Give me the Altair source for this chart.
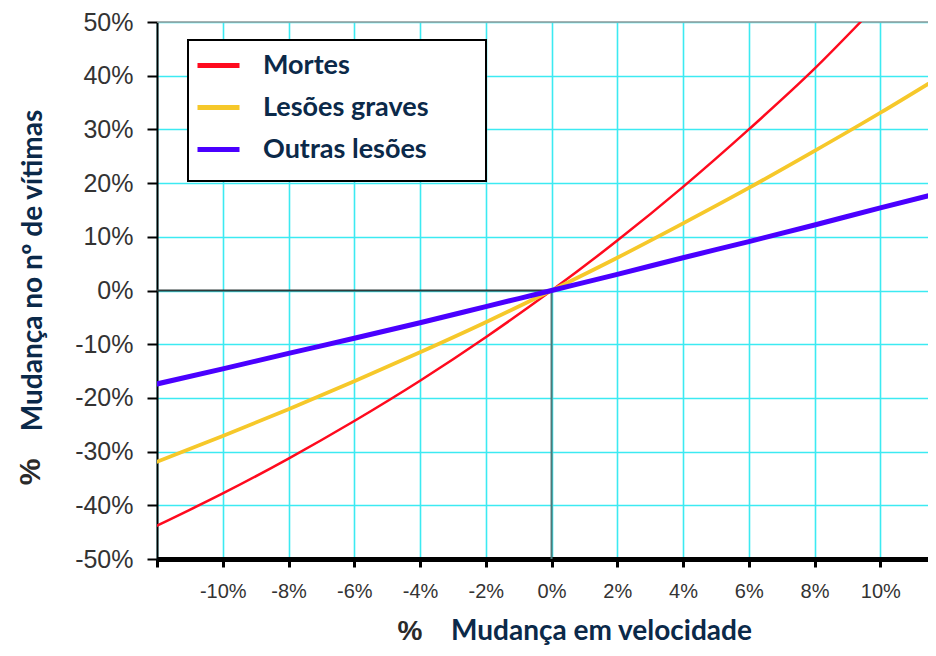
import altair as alt
import pandas as pd

# values (percent units)
series_names = ["Mortes", "Lesões graves", "Outras lesões"]
series_colors = ["#ff0a1e", "#f6c82a", "#4a00ff"]
series_widths = [2.5, 5, 5]

x_mortes = [-12, -10, -8, -6, -4, -2, 0, 2, 4, 6, 8, 9.4]
y_mortes = [-43.8, -37.8, -31.3, -24.3, -16.8, -8.7, 0, 9.3, 19.3, 30.0, 41.3, 50.0]

x_graves = [-12, -10, -8, -6, -4, -2, 0, 2, 4, 6, 8, 10, 11.7]
y_graves = [-31.9, -27.1, -22.1, -16.9, -11.5, -5.9, 0, 6.1, 12.5, 19.1, 26.0, 33.1, 39.4]

x_outras = [-12, -10, -8, -6, -4, -2, 0, 2, 4, 6, 8, 10, 11.7]
y_outras = [-17.4, -14.6, -11.7, -8.9, -6.0, -3.0, 0, 3.0, 6.1, 9.1, 12.2, 15.4, 18.0]

x_ticks = [-12, -10, -8, -6, -4, -2, 0, 2, 4, 6, 8, 10]
y_ticks = [-50, -40, -30, -20, -10, 0, 10, 20, 30, 40, 50]

rows = []
for name, xs, ys in [("Mortes", x_mortes, y_mortes),
                     ("Lesões graves", x_graves, y_graves),
                     ("Outras lesões", x_outras, y_outras)]:
    for i, (a, b) in enumerate(zip(xs, ys)):
        rows.append({"serie": name, "w": name + " ", "x": a, "y": b, "ord": i})
df = pd.DataFrame(rows)

NAVY = "#0b2949"
CYAN = "#3ceaf2"

xscale = alt.Scale(domain=[-12, 11.45], nice=False, zero=False)
yscale = alt.Scale(domain=[-50, 50], nice=False, zero=False)

xaxis = alt.Axis(values=x_ticks,
                 labelExpr="datum.value == -12 ? '' : datum.value + '%'",
                 labelFont="Liberation Sans", labelFontSize=20, labelColor="#333333",
                 labelPadding=14, tickSize=8, tickWidth=3, tickColor="black",
                 domainColor="black", domainWidth=5,
                 grid=True, gridColor=CYAN, gridWidth=1.6,
                 title="Mudança em velocidade", titleFont="Lato", titleFontWeight="bold",
                 titleFontSize=28, titleColor=NAVY, titleX=444, titleY=72,
                 titleAlign="center", titleBaseline="middle")
yaxis = alt.Axis(values=y_ticks, labelExpr="datum.value + '%'",
                 labelFont="Liberation Sans", labelFontSize=25, labelColor="#333333",
                 labelPadding=14, tickSize=10, tickWidth=2, tickColor="black",
                 domainColor="black", domainWidth=2,
                 grid=True, gridColor=CYAN, gridWidth=1.6,
                 title="Mudança no nº de vítimas", titleFont="Lato", titleFontWeight="bold",
                 titleFontSize=28, titleColor=NAVY, titleX=-124, titleY=248,
                 titleAngle=270, titleAlign="center", titleBaseline="middle")

base = alt.Chart(df)

lines = base.mark_line(interpolate="monotone", clip=True, strokeCap="round").encode(
    x=alt.X("x:Q", scale=xscale, axis=xaxis),
    y=alt.Y("y:Q", scale=yscale, axis=yaxis),
    color=alt.Color("serie:N", sort=series_names,
                    scale=alt.Scale(domain=series_names, range=series_colors),
                    legend=alt.Legend(title=None, orient="none", legendX=38, legendY=20,
                                      symbolType="stroke", symbolSize=1764,
                                      symbolStrokeWidth=5, labelFont="Lato",
                                      labelFontWeight="bold", labelFontSize=27,
                                      labelColor=NAVY, labelOffset=21, rowPadding=5,
                                      labelLimit=400, padding=0, symbolOpacity=1)),
    strokeWidth=alt.StrokeWidth("w:N",
                                scale=alt.Scale(domain=[n + " " for n in series_names],
                                                range=series_widths),
                                legend=None),
    order=alt.Order("ord:Q"),
)

top_rule = alt.Chart(pd.DataFrame({"y": [50]})).mark_rule(color="#999999", strokeWidth=1.5).encode(
    y=alt.Y("y:Q", scale=yscale))

zero_h = alt.Chart(pd.DataFrame({"x": [-12], "x2": [0], "y": [0]})).mark_rule(
    color="#2f3b3b", strokeWidth=2).encode(
    x=alt.X("x:Q", scale=xscale), x2="x2:Q", y=alt.Y("y:Q", scale=yscale))
zero_v = alt.Chart(pd.DataFrame({"x": [0], "y": [-50], "y2": [0]})).mark_rule(
    color="#4f7878", strokeWidth=2).encode(
    x=alt.X("x:Q", scale=xscale), y=alt.Y("y:Q", scale=yscale), y2="y2:Q")

legend_box = alt.Chart(pd.DataFrame({"a": [0]})).mark_rect(
    fill="white", stroke="black", strokeWidth=2).encode(
    x=alt.value(31), x2=alt.value(329), y=alt.value(18), y2=alt.value(159))

pct_x = alt.Chart(pd.DataFrame({"t": ["%"]})).mark_text(
    font="Liberation Sans", fontSize=28, fontWeight="bold", color="#2a2a2a", align="center",
    baseline="middle").encode(text="t:N", x=alt.value(253), y=alt.value(610))
pct_y = alt.Chart(pd.DataFrame({"t": ["%"]})).mark_text(
    font="Liberation Sans", fontSize=30, fontWeight="bold", color="#2a2a2a", align="center",
    baseline="middle", angle=270).encode(text="t:N", x=alt.value(-126), y=alt.value(450))

chart = alt.layer(top_rule, zero_h, zero_v, lines, legend_box, pct_x, pct_y).properties(
    width=771, height=537,
    autosize=alt.AutoSizeParams(type="none"),
    padding={"left": 149, "top": 14, "right": 0, "bottom": 88},
).configure_view(stroke=None).configure(background="white")

chart.save("out.html", embed_options={"renderer": "svg", "actions": False})
